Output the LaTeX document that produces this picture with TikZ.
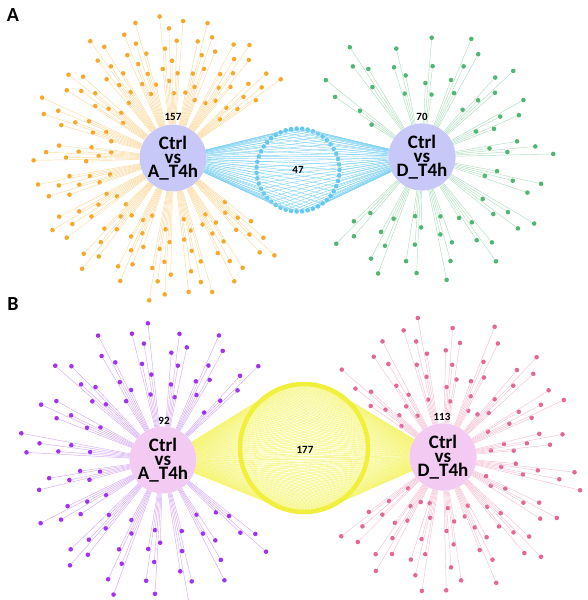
\documentclass[tikz,border=0pt]{standalone}
\usepackage{fontspec}
\setmainfont{Carlito}
\usetikzlibrary{calc}
\definecolor{hubblue}{RGB}{200,200,248}
\definecolor{hubpink}{RGB}{242,202,242}
\definecolor{orangedot}{RGB}{247,168,40}
\definecolor{orangeline}{RGB}{251,218,160}
\definecolor{greendot}{RGB}{80,182,115}
\definecolor{greenline}{RGB}{175,222,190}
\definecolor{bluedot}{RGB}{100,200,240}
\definecolor{blueline}{RGB}{130,210,245}
\definecolor{purpledot}{RGB}{160,50,240}
\definecolor{purpleline}{RGB}{212,170,245}
\definecolor{pinkdot}{RGB}{226,104,152}
\definecolor{pinkline}{RGB}{246,192,212}
\definecolor{yellowring}{RGB}{240,240,60}
\definecolor{yellowline}{RGB}{245,245,120}

\begin{document}
\begin{tikzpicture}[x=1pt,y=-1pt,
  hub/.style={circle,minimum size=66pt,inner sep=0pt,align=center,font=\bfseries\fontsize{19}{14.2}\selectfont},
  dot/.style={circle,minimum size=4.6pt,inner sep=0pt},
  spoke/.style={line width=0.45pt},
  count/.style={font=\bfseries\fontsize{11}{12}\selectfont},
  panel/.style={font=\bfseries\fontsize{20}{24}\selectfont},
  ring/.style={circle,draw=yellowring,line width=4.5pt,minimum size=128pt,inner sep=0pt}]
\useasboundingbox (0,0) rectangle (588,600);

\node[panel] (pa) at (13,15) {A};
\node[panel] (pb) at (13,304) {B};

% hubs
\node[hub,fill=hubblue] (ha) at (173,158) {Ctrl\\vs\\A\_T4h};
\node[hub,fill=hubblue] (hd) at (422,157) {Ctrl\\vs\\D\_T4h};
\node[hub,fill=hubpink] (hl) at (163,460) {Ctrl\\vs\\A\_T4h};
\node[hub,fill=hubpink] (hr) at (443,457) {Ctrl\\vs\\D\_T4h};

% stars: hub/number/clusters/start/span/spread/rmin/rmax/line/dot
\foreach \hub/\n/\g/\st/\sp/\dl/\rlo/\rhi/\lc/\dc in
  {ha/157/17/30/295/1.2/60/145/orangeline/orangedot,
   hd/70/15/215/300/2/58/132/greenline/greendot,
   hl/92/16/36/292/1.5/62/145/purpleline/purpledot,
   hr/113/16/210/300/1.4/46/142/pinkline/pinkdot}{
  \foreach \i in {1,...,\n}{
    \pgfmathtruncatemacro\gi{mod(\i,\g)}
    \pgfmathtruncatemacro\ji{floor(\i/\g)}
    \pgfmathsetmacro\ang{\st+(\gi+0.5)*\sp/\g+(\ji-(\n/\g-1)/2)*\dl}
    \pgfmathsetmacro\fr{\ji*0.382+\gi*0.27+0.1}
    \pgfmathsetmacro\rad{\rlo+(\rhi-\rlo)*(\fr-floor(\fr))}
    \node[dot,fill=\dc] (\hub-\i) at ($(\hub)+(\ang:\rad pt)$) {};
    \draw[spoke,draw=\lc] (\hub) -- (\hub-\i);
  }
}

% shared genes, panel A
\coordinate (bm) at (298,170);
\foreach \i in {1,...,47}{
  \pgfmathsetmacro\ang{\i*(360/47)}
  \node[dot,fill=bluedot] (b\i) at ($(bm)+(\ang:41.5pt)$) {};
  \draw[spoke,draw=blueline] (ha) -- (b\i) -- (hd);
}

% shared genes, panel B
\coordinate (ym) at (304,448);
\foreach \i in {1,...,177}{
  \pgfmathsetmacro\ang{\i*(360/177)}
  \coordinate (y\i) at ($(ym)+(\ang:64pt)$);
  \draw[line width=0.35pt,draw=yellowline] (hl) -- (y\i) -- (hr);
}
\node[ring] (yr) at (ym) {};

% counts
\node[count] (na) at (173,117) {157};
\node[count] (nd) at (422,117) {70};
\node[count] (nb) at (bm) {47};
\node[count] (nl) at (164,421) {92};
\node[count] (nr) at (442,417) {113};
\node[count] (ny) at (305,450) {177};
\end{tikzpicture}
\end{document}
